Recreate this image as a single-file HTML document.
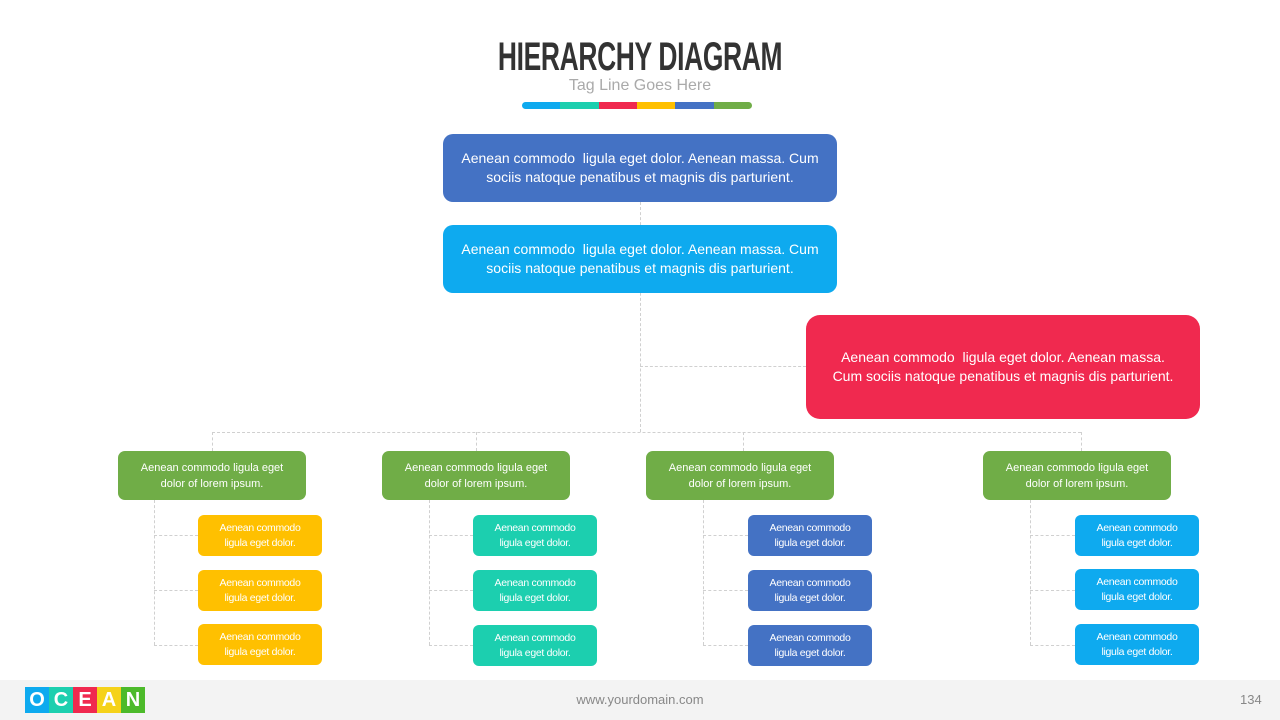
<!DOCTYPE html><html><head><meta charset="utf-8"><style>
body{margin:0;width:1280px;height:720px;position:relative;background:#fff;font-family:"Liberation Sans",sans-serif;overflow:hidden}
.b{position:absolute;color:#fff;display:flex;align-items:center;justify-content:center;text-align:center;box-sizing:border-box}
.big{border-radius:10px;font-size:14px;line-height:19px}
.g{background:#70ad47;border-radius:7px;font-size:11px;line-height:16px;width:188px;height:49px;top:451px}
.c{border-radius:6px;font-size:10.5px;line-height:15px;width:124px;height:41px;letter-spacing:-0.3px}
.l{position:absolute;border-color:#d0d0d0;border-style:dashed;border-width:0}
.v{border-left-width:1px;width:0}.h{border-top-width:1px;height:0}
</style></head><body>
<div style="position:absolute;top:35px;width:1280px;text-align:center;font-size:40px;font-weight:bold;color:#333;font-family:'Liberation Sans Narrow','Liberation Sans',sans-serif;transform:scaleX(0.66);letter-spacing:-0.5px">HIERARCHY DIAGRAM</div>
<div style="position:absolute;top:77px;width:1280px;text-align:center;font-size:16px;color:#aaa">Tag Line Goes Here</div>
<div style="position:absolute;left:522px;top:102px;width:230px;height:7px;border-radius:4px;overflow:hidden;display:flex">
<i style="flex:1;background:#0eaaef"></i><i style="flex:1;background:#1ccfaf"></i><i style="flex:1;background:#f0294f"></i><i style="flex:1;background:#ffc000"></i><i style="flex:1;background:#4472c4"></i><i style="flex:1;background:#70ad47"></i></div>

<div class="l v" style="left:640px;top:202px;height:230px"></div>
<div class="l h" style="left:640px;top:366px;width:166px"></div>
<div class="l h" style="left:212px;top:432px;width:869px"></div>
<div class="l v" style="left:212px;top:432px;height:19px"></div>
<div class="l v" style="left:476px;top:432px;height:19px"></div>
<div class="l v" style="left:743px;top:432px;height:19px"></div>
<div class="l v" style="left:1081px;top:432px;height:19px"></div>

<div class="b big" style="left:443px;top:134px;width:394px;height:68px;background:#4472c4">Aenean commodo&nbsp; ligula eget dolor. Aenean massa. Cum<br>sociis natoque penatibus et magnis dis parturient.</div>
<div class="b big" style="left:443px;top:225px;width:394px;height:68px;background:#0eaaef">Aenean commodo&nbsp; ligula eget dolor. Aenean massa. Cum<br>sociis natoque penatibus et magnis dis parturient.</div>
<div class="b big" style="left:806px;top:315px;width:394px;height:104px;background:#f0294f;border-radius:14px">Aenean commodo&nbsp; ligula eget dolor. Aenean massa.<br>Cum sociis natoque penatibus et magnis dis parturient.</div>

<div class="b g" style="left:118px">Aenean commodo ligula eget<br>dolor of lorem ipsum.</div>
<div class="b g" style="left:382px">Aenean commodo ligula eget<br>dolor of lorem ipsum.</div>
<div class="b g" style="left:646px">Aenean commodo ligula eget<br>dolor of lorem ipsum.</div>
<div class="b g" style="left:983px">Aenean commodo ligula eget<br>dolor of lorem ipsum.</div>

<div class="l v" style="left:154px;top:500px;height:145px"></div>
<div class="l v" style="left:429px;top:500px;height:145px"></div>
<div class="l v" style="left:703px;top:500px;height:145px"></div>
<div class="l v" style="left:1030px;top:500px;height:145px"></div>
<div class="l h" style="left:154px;top:535px;width:44px"></div><div class="l h" style="left:154px;top:590px;width:44px"></div><div class="l h" style="left:154px;top:645px;width:44px"></div>
<div class="l h" style="left:429px;top:535px;width:44px"></div><div class="l h" style="left:429px;top:590px;width:44px"></div><div class="l h" style="left:429px;top:645px;width:44px"></div>
<div class="l h" style="left:703px;top:535px;width:45px"></div><div class="l h" style="left:703px;top:590px;width:45px"></div><div class="l h" style="left:703px;top:645px;width:45px"></div>
<div class="l h" style="left:1030px;top:535px;width:45px"></div><div class="l h" style="left:1030px;top:590px;width:45px"></div><div class="l h" style="left:1030px;top:645px;width:45px"></div>

<div class="b c" style="left:198px;top:515px;background:#ffc000">Aenean commodo<br>ligula eget dolor.</div>
<div class="b c" style="left:198px;top:570px;background:#ffc000">Aenean commodo<br>ligula eget dolor.</div>
<div class="b c" style="left:198px;top:624px;background:#ffc000">Aenean commodo<br>ligula eget dolor.</div>
<div class="b c" style="left:473px;top:515px;background:#1ccfaf">Aenean commodo<br>ligula eget dolor.</div>
<div class="b c" style="left:473px;top:570px;background:#1ccfaf">Aenean commodo<br>ligula eget dolor.</div>
<div class="b c" style="left:473px;top:625px;background:#1ccfaf">Aenean commodo<br>ligula eget dolor.</div>
<div class="b c" style="left:748px;top:515px;background:#4472c4">Aenean commodo<br>ligula eget dolor.</div>
<div class="b c" style="left:748px;top:570px;background:#4472c4">Aenean commodo<br>ligula eget dolor.</div>
<div class="b c" style="left:748px;top:625px;background:#4472c4">Aenean commodo<br>ligula eget dolor.</div>
<div class="b c" style="left:1075px;top:515px;background:#0eaaef">Aenean commodo<br>ligula eget dolor.</div>
<div class="b c" style="left:1075px;top:569px;background:#0eaaef">Aenean commodo<br>ligula eget dolor.</div>
<div class="b c" style="left:1075px;top:624px;background:#0eaaef">Aenean commodo<br>ligula eget dolor.</div>

<div style="position:absolute;left:0;top:680px;width:1280px;height:40px;background:#f3f3f3"></div>
<div style="position:absolute;left:25px;top:687px;display:flex;font-size:20px;font-weight:bold;color:#fff;line-height:26px;text-align:center">
<span style="width:24px;background:#0eaaef">O</span><span style="width:24px;background:#1ccfaf">C</span><span style="width:24px;background:#f0294f">E</span><span style="width:24px;background:#f5d21a">A</span><span style="width:24px;background:#4cba2a">N</span></div>
<div style="position:absolute;top:692px;width:1280px;text-align:center;font-size:13px;color:#888">www.yourdomain.com</div>
<div style="position:absolute;top:692px;left:1240px;font-size:13px;color:#888">134</div>
</body></html>
